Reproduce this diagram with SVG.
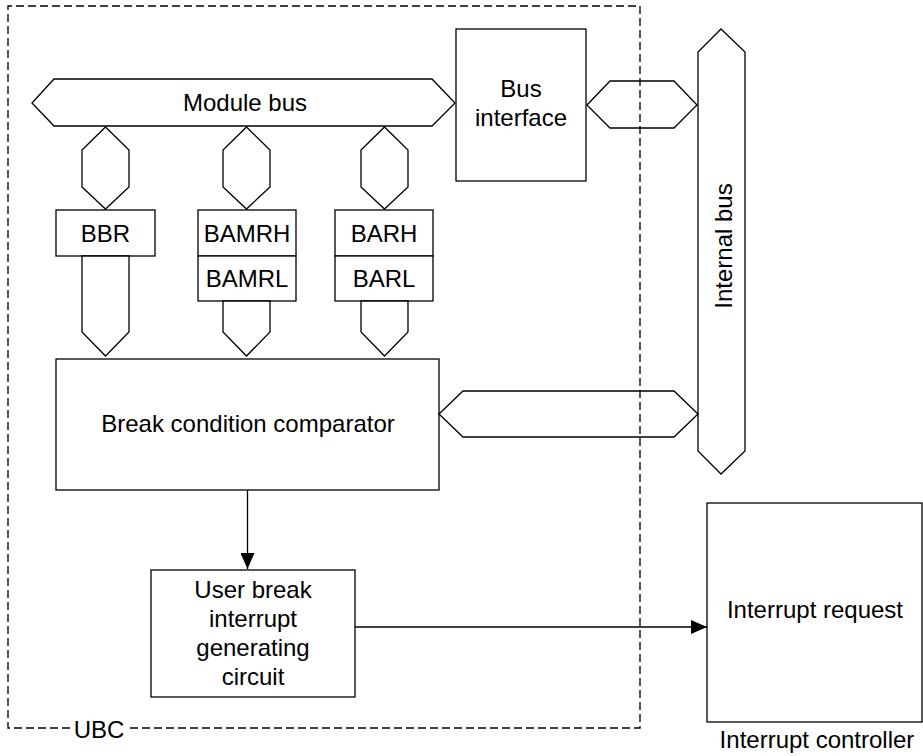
<svg xmlns="http://www.w3.org/2000/svg" width="923" height="756" viewBox="0 0 923 756">
<style>
.s{fill:#fff;stroke:#000;stroke-width:1.3}
.t{font-family:"Liberation Sans",Arial,sans-serif;font-size:24px;fill:#000;text-anchor:middle}
.d{fill:none;stroke:#000;stroke-width:1.3;stroke-dasharray:8 4}
.c{fill:none;stroke:#000;stroke-width:1.3}
</style>
<defs>
<marker id="ah" markerWidth="16" markerHeight="14" refX="16" refY="7" orient="auto" markerUnits="userSpaceOnUse">
<path d="M0,0 L16,7 L0,14 Z" fill="#000"/>
</marker>
</defs>
<rect width="923" height="756" fill="#fff"/>
<g id="module-bus">
<polygon class="s" points="32,103 54,79 432,79 455,103 432,126 54,126"/>
<text class="t" x="245" y="111">Module bus</text>
</g>
<g id="bus-interface">
<rect class="s" x="456" y="29" width="130" height="152"/>
<text class="t" x="521" y="97">Bus</text>
<text class="t" x="521" y="126">interface</text>
</g>
<g id="internal-bus">
<polygon class="s" points="721,29 745,52 745,451 721,474 698,451 698,52"/>
<text class="t" transform="translate(732,246) rotate(-90)">Internal bus</text>
</g>
<g id="bbr">
<rect class="s" x="56" y="210" width="99" height="46"/>
<text class="t" x="105.5" y="242">BBR</text>
</g>
<g id="bamr">
<rect class="s" x="198" y="210" width="98" height="46"/>
<rect class="s" x="198" y="256" width="98" height="45"/>
<text class="t" x="247" y="242">BAMRH</text>
<text class="t" x="247" y="287">BAMRL</text>
</g>
<g id="bar">
<rect class="s" x="335" y="210" width="98" height="46"/>
<rect class="s" x="335" y="256" width="98" height="45"/>
<text class="t" x="384" y="242">BARH</text>
<text class="t" x="384" y="287">BARL</text>
</g>
<g id="comparator">
<rect class="s" x="56" y="359" width="383" height="131"/>
<text class="t" x="248" y="432">Break condition comparator</text>
</g>
<g id="ubi-circuit">
<rect class="s" x="151" y="570" width="204" height="127"/>
<text class="t" x="253" y="598">User break</text>
<text class="t" x="253" y="627">interrupt</text>
<text class="t" x="253" y="656">generating</text>
<text class="t" x="253" y="685">circuit</text>
</g>
<g id="interrupt-controller">
<rect class="s" x="707" y="503" width="215" height="219"/>
<text class="t" x="815" y="618">Interrupt request</text>
<text class="t" x="817" y="748">Interrupt controller</text>
</g>
<g id="connectors">
<polygon class="s" points="105.5,127 129,150 129,187 105.5,209 82,187 82,150"/>
<polygon class="s" points="246.5,127 270,150 270,187 246.5,209 223,187 223,150"/>
<polygon class="s" points="384.5,127 408,150 408,187 384.5,209 361,187 361,150"/>
<polygon class="s" points="82,256 129,256 129,332 105.5,356 82,332"/>
<polygon class="s" points="223,301 270,301 270,332 246.5,356 223,332"/>
<polygon class="s" points="361,301 408,301 408,332 384.5,356 361,332"/>
<polygon class="s" points="587,105 610,81 674,81 697,105 674,128 610,128"/>
<polygon class="s" points="439,414 463,391 674,391 698,414 674,437 463,437"/>
<line class="c" x1="247.5" y1="490" x2="247.5" y2="569" marker-end="url(#ah)"/>
<line class="c" x1="355" y1="627" x2="707" y2="627" marker-end="url(#ah)"/>
</g>
<g id="ubc-frame">
<path class="d" d="M70,728 L8,728 L8,6 L640,6 L640,728 L128,728"/>
<text class="t" x="99" y="738">UBC</text>
</g>
</svg>
